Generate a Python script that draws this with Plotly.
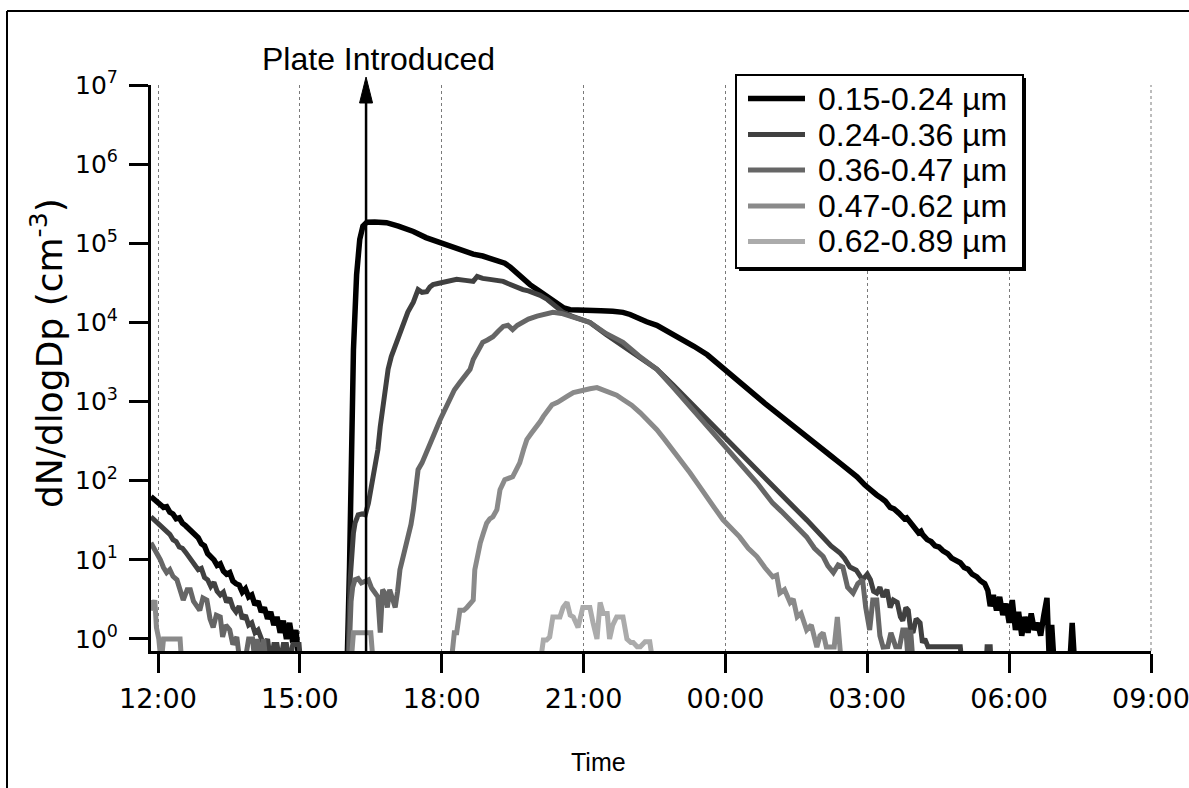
import plotly.graph_objects as go
import pandas as pd

# ---------------- data ----------------
names = ["0.15-0.24 µm", "0.24-0.36 µm", "0.36-0.47 µm", "0.47-0.62 µm", "0.62-0.89 µm"]
colors = ["#000000", "#404040", "#666666", "#8a8a8a", "#ababab"]
widths = [5.5, 5, 5, 5, 5]

y_tickvals = [1, 10, 100, 1e3, 1e4, 1e5, 1e6, 1e7]
y_ticktext = ["10<sup>0</sup>", "10<sup>1</sup>", "10<sup>2</sup>", "10<sup>3</sup>",
              "10<sup>4</sup>", "10<sup>5</sup>", "10<sup>6</sup>", "10<sup>7</sup>"]

arrow_time = "16:24"
arrow_label = "Plate Introduced"

# (time HH:MM, dN/dlogDp) ; times before 11:00 belong to the next day
s1 = [("11:51",63),("11:55",58),("11:59",55),("12:03",50),("12:07",46),("12:11",47),("12:15",40),("12:19",38),("12:23",33),("12:27",34),("12:31",29),("12:35",27),("12:39",25),("12:43",23),("12:47",21),("12:51",19),("12:55",16),("12:59",15),
      ("13:03",12),("13:07",11),("13:11",10),("13:15",8.5),("13:19",8.9),("13:23",7.2),("13:27",6.6),("13:31",6.9),("13:35",5.4),("13:39",5.0),("13:43",4.8),("13:47",3.9),("13:51",4.3),("13:55",3.4),("13:59",3.6),
      ("14:03",2.7),("14:07",3.0),("14:11",2.2),("14:15",2.5),("14:19",1.8),("14:23",2.2),("14:27",1.5),("14:31",1.9),("14:35",1.2),("14:39",1.7),("14:43",1.0),("14:47",1.6),("14:51",0.9),("14:55",1.3),("14:59",0.5),
      ("15:30",0.5),("16:00",0.5),("16:03",8),("16:05",170),("16:08",4500),("16:12",40000),("16:16",112000),("16:20",165000),("16:25",185000),("16:35",186000),("16:50",182000),("17:05",165000),("17:24",141000),("17:40",118000),("17:58",102000),("18:12",90000),("18:27",79000),("18:40",73000),("18:52",69000),("19:03",64000),("19:14",59000),("19:20",56000),("19:27",50000),("19:35",42000),("19:43",35000),("19:52",30000),("20:01",26000),("20:14",21000),("20:26",17000),("20:35",15200),("20:43",14500),("20:55",14200),("21:08",14100),("21:22",14000),("21:37",13800),("21:50",13400),("21:59",12600),("22:10",11200),("22:20",10200),("22:33",9200),("22:45",7900),("22:55",7000),("23:06",6000),("23:20",5000),("23:37",3900),("23:47",3200),("23:57",2600),
      ("00:08",2100),("00:18",1740),("00:29",1400),("00:40",1150),("00:50",950),("01:00",790),("01:11",650),("01:22",540),("01:32",440),("01:43",360),("01:53",300),("02:04",247),("02:14",205),("02:25",168),("02:36",138),("02:47",112),("02:57",88),("03:07",71),("03:12",66),("03:18",60),("03:23",55),("03:29",46),("03:34",44),("03:40",39),("03:47",33),("03:50",34),("03:54",30),("04:00",26),("04:05",22),("04:08",23),("04:10",21),("04:16",18),("04:21",17),("04:26",15),("04:31",14.5),("04:36",13),("04:42",12),("04:47",10.5),("04:52",10),("04:58",9.2),("05:03",8),("05:08",7.6),("05:13",6.6),("05:19",6.1),("05:24",5.4),("05:29",5.0),("05:33",4.1),("05:36",2.6),("05:40",3.6),("05:44",2.3),("05:48",3.4),("05:52",2.0),("05:56",2.8),("06:00",1.6),("06:04",3.1),("06:08",1.3),("06:12",2.2),("06:16",1.1),("06:20",1.9),("06:24",1.2),("06:28",2.1),("06:32",1.3),("06:36",1.6),("06:40",1.1),("06:44",2.0),("06:48",3.3),("06:51",0.5),("06:54",1.5),("06:57",0.5),("07:17",0.5),("07:20",1.6),("07:23",0.5),("08:00",0.5)]

s2 = [("11:51",35),("11:55",32),("11:59",30),("12:03",27),("12:07",25),("12:11",22),("12:15",21),("12:19",18),("12:23",17),("12:27",14.5),("12:31",14),("12:35",12.5),("12:39",11),("12:43",10),("12:47",8.4),("12:51",7.5),("12:55",7.8),("12:59",6.0),("13:03",5.6),("13:07",4.6),("13:11",5.2),("13:15",4.0),("13:19",3.6),("13:23",3.9),("13:27",2.9),("13:31",3.3),("13:35",2.5),("13:39",2.2),("13:43",2.6),("13:47",1.8),("13:51",2.0),("13:55",1.5),("13:59",1.6),("14:03",1.2),("14:07",1.3),("14:11",1.0),("14:15",0.8),("14:19",1.0),("14:23",0.5),("14:27",0.85),("14:31",0.85),("14:35",0.5),("14:39",0.85),("14:43",0.85),("14:47",0.5),("14:51",0.85),("14:55",0.85),("14:59",0.85),("15:01",0.5),
      ("15:59",0.5),("16:01",0.5),("16:04",6),("16:06",13),("16:08",22),("16:10",29),("16:14",37),("16:19",38),("16:23",37),("16:27",52),("16:30",80),("16:33",112),("16:36",170),("16:39",247),("16:42",480),("16:46",1060),("16:49",1700),("16:52",2560),("16:56",3700),("17:01",5000),("17:06",7200),("17:11",10000),("17:17",13500),("17:24",18000),("17:30",26000),("17:35",24000),("17:41",24500),("17:45",28000),("17:49",30000),("17:55",31000),("18:02",32000),("18:10",33500),("18:19",35000),("18:30",34000),("18:40",33000),("18:45",38000),("18:52",36000),("19:01",35000),("19:10",34000),("19:18",33000),("19:24",31000),("19:30",29000),("19:36",27500),("19:43",26000),("19:50",25000),("19:56",24000),("20:05",22000),("20:14",19500),("20:24",16000),("20:34",13400),("20:45",12000),("20:55",11000),("21:08",10000),("21:29",7000),("21:50",5000),("22:10",3600),("22:33",2560),("22:54",1600),("23:15",980),("23:26",760),("23:37",590),("23:47",460),("23:57",360),
      ("00:08",285),("00:18",225),("00:29",175),("00:40",138),("00:50",108),("01:00",84),("01:11",66),("01:22",52),("01:32",41),("01:43",32),("01:53",25),("02:04",19.5),("02:14",15),("02:25",12.3),("02:31",10.5),("02:38",8.1),("02:46",7.4),("02:54",5.6),("03:00",6.6),("03:04",5.6),("03:08",4.0),("03:12",3.8),("03:16",4.5),("03:20",3.4),("03:25",4.2),("03:29",2.5),("03:33",3.1),("03:38",2.9),("03:42",1.9),("03:45",1.7),("03:49",2.5),("03:52",2.3),("03:55",1.3),("03:58",1.2),("04:02",1.8),("04:07",1.6),("04:10",0.9),("04:13",1.0),("04:17",0.8),("04:58",0.8),("05:00",0.5),("05:31",0.5),("05:32",0.8),("05:36",0.8),("05:37",0.5),("06:30",0.5)]

s3 = [("11:51",16.4),("11:55",14),("11:59",12.3),("12:03",10),("12:07",8),("12:11",6.9),("12:15",7.5),("12:19",6.2),("12:24",5.6),("12:28",4.0),("12:32",3.1),("12:37",4.2),("12:41",4.2),("12:45",3.0),("12:49",2.6),("12:53",2.3),("12:57",3.3),("13:02",3.1),("13:06",1.8),("13:10",1.4),("13:14",2.0),("13:19",1.9),("13:22",1.06),("13:26",1.5),("13:31",1.3),("13:35",0.85),("13:40",1.06),("13:44",0.5),("13:50",0.5),("13:55",1.0),("14:00",1.0),("14:03",0.5),("14:06",1.0),("14:10",0.5),("14:14",1.0),("14:17",0.5),("15:00",0.5),
      ("15:59",0.5),("16:02",0.5),("16:05",3.0),("16:07",4.5),("16:10",5.6),("16:14",5.8),("16:18",5.1),("16:22",5.3),("16:27",5.6),("16:31",4.4),("16:35",3.8),("16:39",3.4),("16:42",1.2),("16:45",4.2),("16:48",3.8),("16:51",2.5),("16:54",4.2),("16:58",3.2),("17:01",2.5),("17:04",4.0),("17:07",7.5),("17:12",12),("17:17",18),("17:21",28),("17:24",43),("17:27",80),("17:30",138),("17:35",168),("17:41",225),("17:49",360),("17:58",590),("18:04",800),("18:10",1060),("18:16",1400),("18:23",1740),("18:30",2200),("18:36",2560),("18:40",3400),("18:45",4200),("18:52",5600),("18:58",6000),("19:05",6600),("19:12",7800),("19:18",8900),("19:24",9200),("19:30",8100),("19:36",9200),("19:42",10000),("19:50",11000),("20:01",12000),("20:10",12800),("20:21",13400),("20:32",13000),("20:43",12000),("20:55",11200),("21:08",10000),("21:29",7200),("21:50",5600),("22:10",3800),("22:33",2560),("22:54",1500),("23:15",870),("23:36",510),("23:57",300),
      ("00:08",225),("00:18",168),("00:29",125),("00:40",94),("00:50",70),("01:00",52),("01:11",41),("01:22",32),("01:32",25),("01:43",19.5),("01:53",14),("02:04",11),("02:10",8.4),("02:17",6.9),("02:23",8.6),("02:29",8.1),("02:35",4.5),("02:42",3.8),("02:48",5.0),("02:54",5.6),("02:58",2.5),("03:03",1.3),("03:07",3.1),("03:12",3.1),("03:16",1.1),("03:20",0.79),("03:26",0.8),("03:30",1.2),("03:36",0.8),("03:41",0.8),("03:45",1.3),("03:49",1.3),("03:52",0.5),("03:55",1.3),("03:58",0.5),("04:30",0.5)]

s4 = [("11:51",3.1),("11:53",2.3),("11:56",3.1),("11:58",1.4),("12:01",1.0),("12:04",0.5),("12:07",1.0),("12:11",1.0),("12:15",1.0),("12:19",1.0),("12:24",1.0),("12:28",1.0),("12:30",0.5),
      ("16:05",0.5),("16:08",1.2),("16:15",1.2),("16:22",1.2),("16:30",1.2),("16:33",0.5),
      ("18:12",0.5),("18:16",1.2),("18:19",1.2),("18:23",2.3),("18:28",2.3),("18:32",2.5),("18:37",2.8),("18:40",3.1),("18:42",7.5),("18:46",12),("18:49",16.4),("18:53",22),("18:57",29),("19:01",33),("19:05",35),("19:10",43),("19:14",77),("19:20",103),("19:25",108),("19:30",112),("19:35",140),("19:39",168),("19:44",250),("19:48",330),("19:54",400),("20:01",480),("20:05",560),("20:09",650),("20:15",780),("20:20",910),("20:27",980),("20:34",1060),("20:40",1180),("20:47",1300),("20:53",1350),("20:59",1400),("21:08",1450),("21:17",1500),("21:25",1380),("21:33",1300),("21:42",1200),("21:50",1060),("22:01",900),("22:12",720),("22:22",580),("22:33",440),("22:43",330),("22:53",247),("23:04",175),("23:15",126),("23:26",88),("23:37",63),("23:47",44),("23:57",32),
      ("00:08",25),("00:18",19.5),("00:29",14),("00:40",11),("00:50",8),("01:00",6.1),("01:05",6.4),("01:09",3.8),("01:15",4.2),("01:22",2.9),("01:26",3.2),("01:31",1.9),("01:36",2.1),("01:43",1.3),("01:49",1.5),("01:56",0.79),("02:00",1.1),("02:04",1.2),("02:08",0.79),("02:13",0.79),("02:18",0.79),("02:22",1.9),("02:25",0.79),("02:27",0.5),("03:00",0.5)]

s5 = [("20:00",0.5),("20:05",0.5),("20:09",0.97),("20:13",0.97),("20:17",1.06),("20:21",1.9),("20:26",1.9),("20:30",1.9),("20:34",2.5),("20:39",2.9),("20:43",2.0),("20:47",1.9),("20:53",1.4),("20:56",2.0),("20:59",2.5),("21:04",2.5),("21:08",2.5),("21:12",1.6),("21:17",1.0),("21:21",2.9),("21:25",2.1),("21:30",2.1),("21:33",1.0),("21:37",1.5),("21:42",1.9),("21:46",1.9),("21:50",1.9),("21:55",1.0),("22:00",0.9),("22:03",0.9),("22:08",0.8),("22:12",0.8),("22:18",0.92),("22:24",0.92),("22:28",0.5),("22:40",0.5)]

series = [s1, s2, s3, s4, s5]


def to_dt(hm):
    h, m = map(int, hm.split(":"))
    day = 2 if h < 11 else 1
    return f"2000-01-0{day} {h:02d}:{m:02d}:00"


X0 = "2000-01-01 11:51:07"
X1 = "2000-01-02 09:00:00"
Y_RANGE = [-0.152, 7]

TICK_FONT = "DejaVu Sans"
TEXT_FONT = "Liberation Sans, Arial, Helvetica, sans-serif"

fig = go.Figure()
for s, name, col, w in zip(series, names, colors, widths):
    fig.add_trace(go.Scatter(
        x=[to_dt(t) for t, _ in s], y=[v for _, v in s],
        mode="lines", name=name, line=dict(color=col, width=w),
        showlegend=False, hoverinfo="skip"))

fig.update_layout(
    width=1189, height=788,
    margin=dict(l=151, r=38, t=85, b=137, pad=0, autoexpand=False),
    paper_bgcolor="white", plot_bgcolor="white",
    showlegend=False,
    xaxis=dict(
        type="date", range=[X0, X1], automargin=False,
        showline=True, linewidth=3, linecolor="black", mirror=False,
        ticks="outside", ticklen=19, tickwidth=3, tickcolor="black",
        tickformat="%H:%M", tick0="2000-01-01 00:00", dtick=3 * 3600 * 1000,
        showgrid=True, gridcolor="#7a7a7a", gridwidth=1, griddash="3px,3px",
        zeroline=False, ticklabeloverflow="allow",
        tickfont=dict(family=TICK_FONT, size=27, color="black"),
        ticklabelstandoff=3,
    ),
    yaxis=dict(
        type="log", range=Y_RANGE, automargin=False,
        showline=True, linewidth=3, linecolor="black", mirror=False,
        ticks="outside", ticklen=19, tickwidth=3, tickcolor="black",
        tickmode="array", tickvals=y_tickvals, ticktext=y_ticktext,
        showgrid=False, zeroline=False,
        tickfont=dict(family=TICK_FONT, size=25, color="black"),
        ticklabelstandoff=6,
    ),
)

# paper position of the arrow from the x-axis scale
t0 = pd.Timestamp(X0); t1 = pd.Timestamp(X1)
ta = pd.Timestamp(to_dt(arrow_time))
ax_p = (ta - t0) / (t1 - t0)

shapes = []
# gridline at the right edge (09:00)
shapes.append(dict(type="line", xref="paper", yref="paper", x0=1, x1=1, y0=0, y1=1, layer="below",
                   line=dict(color="#7a7a7a", width=1, dash="3px,3px")))
# outer frame (left and top edges)
shapes.append(dict(type="line", xref="paper", yref="paper", x0=-0.144, x1=-0.144, y0=-0.4, y1=1.1307,
                   line=dict(color="black", width=2)))
shapes.append(dict(type="line", xref="paper", yref="paper", x0=-0.144, x1=1.2, y0=1.1307, y1=1.1307,
                   line=dict(color="black", width=2)))
# arrow
shapes.append(dict(type="line", xref="x", yref="paper", x0=to_dt(arrow_time), x1=to_dt(arrow_time),
                   y0=0, y1=0.97, line=dict(color="black", width=2.5)))
shapes.append(dict(type="path", xref="paper", yref="paper",
                   path=f"M {ax_p-0.0065},0.9682 L {ax_p},1.0141 L {ax_p+0.0065},0.9682 Z",
                   fillcolor="black", line=dict(color="black", width=1)))
# legend box with shadow
shapes.append(dict(type="rect", xref="paper", yref="paper", x0=0.588, x1=0.875, y0=0.6714, y1=1.0124,
                   fillcolor="black", line=dict(width=0)))
shapes.append(dict(type="rect", xref="paper", yref="paper", x0=0.585, x1=0.872, y0=0.6767, y1=1.0177,
                   fillcolor="white", line=dict(color="black", width=2)))

row_y = [0.9761, 0.9125, 0.8498, 0.7862, 0.7235]
annotations = []
for ry, name, col, w in zip(row_y, names, colors, widths):
    shapes.append(dict(type="line", xref="paper", yref="paper", x0=0.597, x1=0.654, y0=ry, y1=ry,
                       line=dict(color=col, width=w)))
    annotations.append(dict(text=name, xref="paper", yref="paper", x=0.665, y=ry,
                            xanchor="left", yanchor="middle", showarrow=False,
                            font=dict(family=TEXT_FONT, size=32, color="black")))

annotations.append(dict(text=arrow_label, xref="paper", yref="paper", x=0.2275, y=1.0459,
                        xanchor="center", yanchor="middle", showarrow=False,
                        font=dict(family=TEXT_FONT, size=32, color="black")))
annotations.append(dict(text="Time", xref="paper", yref="paper", x=0.447, y=-0.196,
                        xanchor="center", yanchor="middle", showarrow=False,
                        font=dict(family=TEXT_FONT, size=25, color="black")))
annotations.append(dict(text="dN/dlogDp (cm<sup>-3</sup>)", xref="paper", yref="paper",
                        x=-0.104, y=0.5265, textangle=-90,
                        xanchor="center", yanchor="middle", showarrow=False,
                        font=dict(family=TICK_FONT, size=36, color="black")))

fig.update_layout(shapes=shapes, annotations=annotations)

fig.write_html("out.html", config={"displayModeBar": False},
               post_script="document.body.style.margin='0';")
